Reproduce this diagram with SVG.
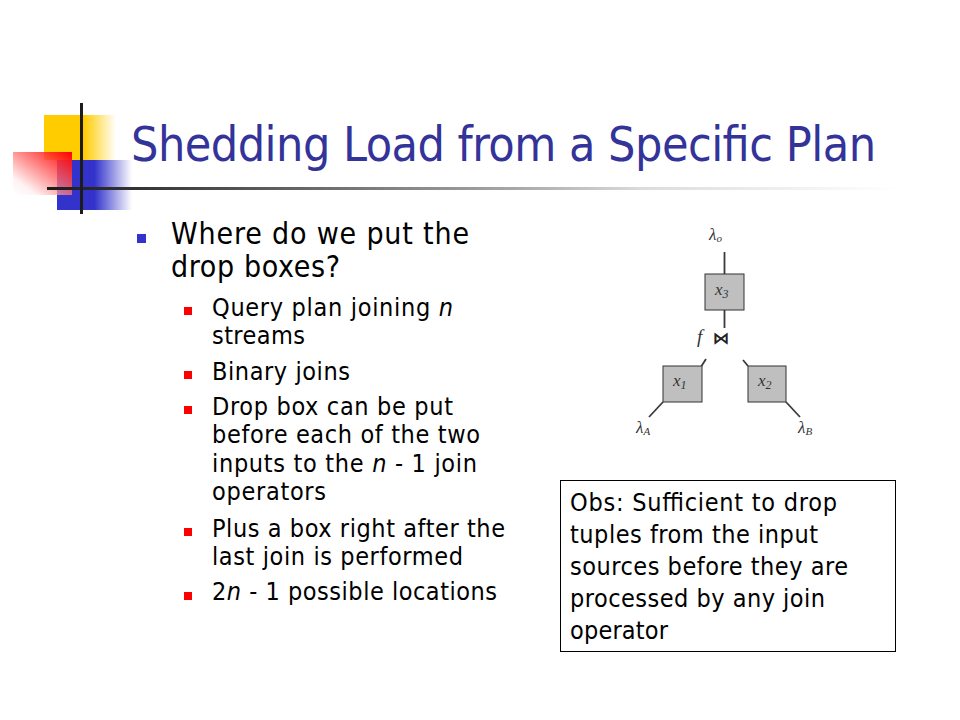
<svg xmlns="http://www.w3.org/2000/svg" width="960" height="720" viewBox="0 0 960 720">
<style>
.t{font-family:"DejaVu Sans Condensed","DejaVu Sans",sans-serif;fill:#000}
.title{font-size:48px;fill:#333399}
.m{font-size:30px}
.s{font-size:25px}
.it{font-style:italic}
.lab{font-family:"Liberation Serif","DejaVu Serif",serif;font-style:italic;fill:#333}
.ln{stroke:#3a3a3a;stroke-width:1.8;fill:none}
.box{fill:#bfbfbf;stroke:#333;stroke-width:1}
</style>
<defs>
<linearGradient id="gy" x1="44" y1="0" x2="116" y2="0" gradientUnits="userSpaceOnUse">
<stop offset="0" stop-color="#ffcc00"/><stop offset="0.55" stop-color="#ffcc00"/><stop offset="1" stop-color="#ffcc00" stop-opacity="0"/>
</linearGradient>
<linearGradient id="gb" x1="57" y1="0" x2="132" y2="0" gradientUnits="userSpaceOnUse">
<stop offset="0" stop-color="#3333cc"/><stop offset="0.5" stop-color="#3333cc"/><stop offset="1" stop-color="#3333cc" stop-opacity="0"/>
</linearGradient>
<linearGradient id="gr" x1="1" y1="0" x2="0" y2="1">
<stop offset="0" stop-color="#ff0000"/><stop offset="0.8" stop-color="#ff0000" stop-opacity="0.05"/><stop offset="1" stop-color="#ff0000" stop-opacity="0"/>
</linearGradient>
<linearGradient id="gl" x1="47" y1="0" x2="900" y2="0" gradientUnits="userSpaceOnUse">
<stop offset="0" stop-color="#1c1c1c"/><stop offset="0.1" stop-color="#333"/><stop offset="0.55" stop-color="#a8a8a8"/><stop offset="0.7" stop-color="#dcdcdc"/><stop offset="1" stop-color="#fff"/>
</linearGradient>
</defs>
<rect width="960" height="720" fill="#fff"/>
<g id="decor">
<rect x="44" y="115" width="72" height="45" fill="url(#gy)"/>
<rect x="57" y="160" width="75" height="50" fill="url(#gb)"/>
<rect x="13" y="152" width="59" height="43" fill="#fff" fill-opacity="0.6"/>
<rect x="13" y="152" width="59" height="43" fill="url(#gr)"/>
<rect x="47" y="187" width="853" height="3" fill="url(#gl)"/>
<rect x="80" y="103" width="3" height="111" fill="#1c1c1c"/>
</g>
<text class="t title" x="131" y="161" textLength="745">Shedding Load from a Specific Plan</text>
<g id="bullets">
<rect x="137" y="234" width="9" height="9" fill="#3333cc"/>
<text class="t m" x="171" y="244" textLength="298">Where do we put the</text>
<text class="t m" x="171" y="277" textLength="169">drop boxes?</text>
<rect x="184" y="307" width="8" height="8" fill="#ff0000"/>
<text class="t s" x="212" y="316" textLength="241">Query plan joining <tspan class="it">n</tspan></text>
<text class="t s" x="212" y="344" textLength="93">streams</text>
<rect x="184" y="371" width="8" height="8" fill="#ff0000"/>
<text class="t s" x="212" y="380" textLength="138">Binary joins</text>
<rect x="184" y="406" width="8" height="8" fill="#ff0000"/>
<text class="t s" x="212" y="415" textLength="241">Drop box can be put</text>
<text class="t s" x="212" y="443" textLength="268">before each of the two</text>
<text class="t s" x="212" y="472" textLength="265">inputs to the <tspan class="it">n</tspan> - 1 join</text>
<text class="t s" x="212" y="500" textLength="114">operators</text>
<rect x="184" y="528" width="8" height="8" fill="#ff0000"/>
<text class="t s" x="212" y="537" textLength="293">Plus a box right after the</text>
<text class="t s" x="212" y="565" textLength="251">last join is performed</text>
<rect x="184" y="592" width="8" height="8" fill="#ff0000"/>
<text class="t s" x="212" y="600" textLength="285">2<tspan class="it">n</tspan> - 1 possible locations</text>
</g>
<g id="obs">
<rect x="560.5" y="480.5" width="335" height="171" fill="#fff" stroke="#000" stroke-width="1"/>
<text class="t s" x="570" y="511" textLength="267">Obs: Sufficient to drop</text>
<text class="t s" x="570" y="543" textLength="248">tuples from the input</text>
<text class="t s" x="570" y="575" textLength="278">sources before they are</text>
<text class="t s" x="570" y="607" textLength="255">processed by any join</text>
<text class="t s" x="570" y="639" textLength="98">operator</text>
</g>
<g id="connectors">
<line class="ln" x1="724.5" y1="252" x2="724.5" y2="274"/>
<line class="ln" x1="724.5" y1="310" x2="724.5" y2="328"/>
<line class="ln" x1="706" y1="359" x2="701.5" y2="366"/>
<line class="ln" x1="743" y1="360" x2="748" y2="366"/>
<line class="ln" x1="663" y1="402" x2="649" y2="417"/>
<line class="ln" x1="786" y1="402" x2="800" y2="417"/>
</g>
<g id="lambda-o"><text class="lab" x="709" y="240" font-size="17">λ<tspan font-size="11" dy="2">o</tspan></text></g>
<g id="x3"><rect class="box" x="705" y="274" width="39" height="36"/><text class="lab" x="715" y="295" font-size="17">x<tspan font-size="12" dy="3">3</tspan></text></g>
<g id="join"><text class="lab" x="697" y="343" font-size="19">f</text><text x="721" y="344" font-family="DejaVu Sans,sans-serif" font-size="17" font-weight="bold" text-anchor="middle" fill="#222">⋈</text></g>
<g id="x1"><rect class="box" x="663" y="366" width="39" height="36"/><text class="lab" x="673" y="386" font-size="17">x<tspan font-size="12" dy="3">1</tspan></text></g>
<g id="x2"><rect class="box" x="748" y="366" width="38" height="36"/><text class="lab" x="758" y="386" font-size="17">x<tspan font-size="12" dy="3">2</tspan></text></g>
<g id="lambda-a"><text class="lab" x="636" y="433" font-size="17">λ<tspan font-size="11" dy="2">A</tspan></text></g>
<g id="lambda-b"><text class="lab" x="798" y="433" font-size="17">λ<tspan font-size="11" dy="2">B</tspan></text></g>
</svg>
